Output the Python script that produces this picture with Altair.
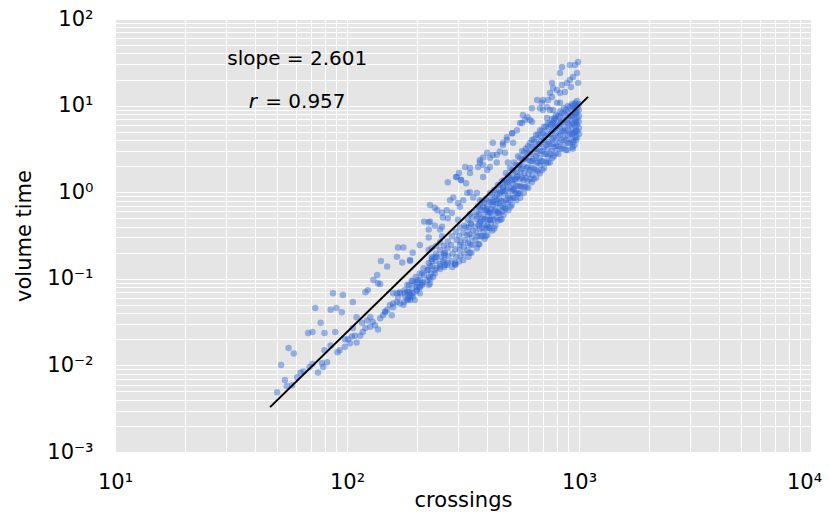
import altair as alt
import pandas as pd

# ---- data (crossings, volume time) ----
tail = [
    (50, 0.0049), (52, 0.0101), (56, 0.0159), (59, 0.0137), (54, 0.0068), (55, 0.0058), (58, 0.0059), (61, 0.0073), (63, 0.0083), (65, 0.0085),
    (69, 0.0096), (71, 0.0104), (75, 0.0083), (78, 0.0106), (79, 0.0096), (82, 0.0109), (80, 0.015), (85, 0.017), (89, 0.0243), (80, 0.0236),
    (71, 0.0243), (68, 0.0236), (77, 0.031), (73, 0.046), (85, 0.044), (90, 0.046), (95, 0.041), (87, 0.068), (96, 0.065), (106, 0.054),
    (93, 0.015), (91, 0.0142), (98, 0.0164), (101, 0.020), (105, 0.0215), (110, 0.0184), (114, 0.022), (117, 0.0243), (116, 0.031), (122, 0.033),
    (126, 0.028), (132, 0.029), (136, 0.026), (139, 0.035), (146, 0.041), (149, 0.044), (156, 0.038), (158, 0.052), (164, 0.054), (120, 0.070),
    (123, 0.074), (130, 0.097), (135, 0.111), (136, 0.089), (103, 0.018), (106, 0.027), (110, 0.036), (126, 0.036), (140, 0.161), (149, 0.139),
    (164, 0.18), (173, 0.154), (187, 0.161), (192, 0.20), (139, 0.087), (146, 0.042), (158, 0.047), (169, 0.052), (182, 0.057), (192, 0.068),
    (200, 0.074), (211, 0.088), (228, 0.10), (239, 0.115), (252, 0.13), (264, 0.144), (292, 0.146), (243, 0.18), (264, 0.188), (232, 0.16),
    (200, 0.091), (182, 0.071), (187, 0.057), (196, 0.057), (169, 0.068), (164, 0.068), (158, 0.068), (98, 0.020), (108, 0.022), (120, 0.027),
    (129, 0.032), (143, 0.038), (153, 0.050), (166, 0.061), (175, 0.050), (183, 0.059), (206, 0.080), (222, 0.097), (225, 0.085), (235, 0.105),
]

middle = [
    (228, 0.71), (239, 0.66), (245, 0.62), (257, 0.58), (278, 0.81), (287, 0.87), (301, 0.75), (307, 0.68), (317, 0.81), (330, 0.98),
    (339, 1.0), (350, 0.87), (363, 0.98), (374, 0.81), (386, 0.68), (402, 0.60), (413, 0.58), (425, 0.71), (442, 0.81), (456, 0.98),
    (470, 1.12), (489, 1.27), (515, 1.38), (540, 1.50), (520, 1.06), (545, 0.98), (504, 0.81), (470, 0.68), (447, 0.58), (413, 0.48),
    (374, 0.45), (402, 0.41), (326, 0.39), (307, 0.245), (292, 0.152), (264, 0.20), (257, 0.40), (259, 0.51), (272, 0.50), (269, 0.62),
    (283, 0.58), (301, 0.48), (215, 0.46), (225, 0.45), (228, 0.46), (225, 0.37), (225, 0.30), (239, 0.41), (252, 0.37), (257, 0.31),
    (206, 0.245), (166, 0.23), (175, 0.23), (187, 0.165), (232, 0.18), (239, 0.176), (259, 0.158), (252, 0.14), (228, 0.14), (222, 0.126),
    (211, 0.115), (239, 0.126), (269, 0.144), (202, 0.097), (192, 0.093), (182, 0.085), (200, 0.080), (211, 0.085), (228, 0.088), (187, 0.068),
    (206, 0.068), (178, 0.068), (169, 0.070), (192, 0.062),
]

upper = [
    (272, 1.30), (304, 1.67), (323, 1.96), (339, 1.67), (310, 1.38), (326, 1.27), (295, 1.50), (374, 2.35), (386, 2.52), (402, 2.85),
    (425, 2.69), (442, 2.2), (413, 1.96), (402, 1.80), (386, 1.50), (456, 2.95), (480, 2.85), (494, 2.2), (470, 3.72), (489, 4.3),
    (515, 4.8), (520, 3.72), (425, 3.72), (374, 2.2),
    (845, 27.9), (914, 29.5), (961, 29.5), (991, 31.8), (981, 23.8), (942, 21.4), (914, 19.8), (887, 18.3), (845, 17.3), (828, 23.8),
    (923, 16.4), (991, 18.3), (765, 18.3), (773, 16.0), (804, 15.1), (828, 14.0), (870, 14.4), (750, 14.0), (765, 12.6), (735, 11.6),
    (804, 10.8), (828, 10.8), (699, 11.6), (692, 10.8), (728, 9.6), (750, 8.9), (773, 8.9), (660, 11.6), (627, 9.3), (699, 8.9),
    (679, 9.3), (728, 7.2), (788, 7.2), (773, 6.3), (615, 6.8), (585, 6.8), (573, 7.8), (557, 6.3), (540, 5.2), (515, 4.8),
    (600, 7.4), (627, 6.5), (568, 6.3), (489, 4.0), (470, 3.5), (442, 2.7), (413, 2.5), (386, 2.06), (367, 1.96), (339, 1.9),
    (297, 1.5), (310, 1.38),
]

band_low = [
    (177, 0.074), (178, 0.063), (176, 0.054), (185, 0.085), (184, 0.071), (186, 0.061),
    (190, 0.095), (191, 0.078), (189, 0.065), (198, 0.105), (197, 0.088), (199, 0.072),
    (206, 0.115), (207, 0.097), (205, 0.080), (214, 0.132), (215, 0.111), (213, 0.091),
    (225, 0.152), (224, 0.126), (226, 0.105), (225, 0.215), (232, 0.17), (233, 0.14), (231, 0.115), (232, 0.225),
    (242, 0.193), (241, 0.16), (243, 0.132), (242, 0.24), (252, 0.215), (253, 0.18), (251, 0.148), (252, 0.265),
    (262, 0.24), (261, 0.196), (263, 0.165), (262, 0.137), (272, 0.27), (271, 0.225), (273, 0.184), (272, 0.152),
]

band = [
    (283, 0.31), (281, 0.245), (285, 0.196), (282, 0.16), (284, 0.137),
    (295, 0.35), (297, 0.28), (293, 0.22), (296, 0.18), (294, 0.146),
    (307, 0.39), (305, 0.31), (309, 0.265), (306, 0.215), (308, 0.184), (304, 0.158),
    (320, 0.41), (318, 0.34), (322, 0.28), (319, 0.235), (321, 0.196), (317, 0.165),
    (332, 0.48), (335, 0.39), (330, 0.32), (333, 0.26), (331, 0.215), (334, 0.18),
    (346, 0.52), (343, 0.43), (348, 0.36), (345, 0.30), (347, 0.245), (344, 0.20),
    (360, 0.59), (362, 0.49), (357, 0.40), (361, 0.34), (358, 0.28), (363, 0.225),
    (374, 0.67), (371, 0.56), (376, 0.46), (373, 0.38), (377, 0.31), (372, 0.25),
    (390, 0.75), (393, 0.62), (388, 0.52), (391, 0.42), (387, 0.35), (392, 0.29),
    (405, 0.81), (402, 0.69), (407, 0.57), (404, 0.48), (408, 0.39), (403, 0.32),
    (421, 0.93), (424, 0.77), (419, 0.64), (422, 0.53), (418, 0.44), (423, 0.36),
    (438, 1.06), (435, 0.88), (440, 0.73), (437, 0.61), (441, 0.50), (436, 0.41),
    (456, 1.21), (459, 1.0), (453, 0.84), (457, 0.69), (454, 0.57), (458, 0.48),
    (475, 1.38), (472, 1.15), (477, 0.95), (474, 0.79), (478, 0.66), (473, 0.55),
    (494, 1.54), (497, 1.30), (491, 1.09), (495, 0.91), (492, 0.75), (496, 0.62),
    (515, 1.80), (512, 1.50), (518, 1.24), (514, 1.03), (517, 0.86), (513, 0.71),
    (535, 2.06), (538, 1.71), (532, 1.42), (536, 1.18), (533, 0.98), (537, 0.81),
    (557, 2.48), (554, 2.06), (560, 1.71), (556, 1.42), (559, 1.18), (555, 0.98), (558, 0.86),
    (579, 2.9), (582, 2.42), (576, 2.0), (580, 1.66), (577, 1.38), (581, 1.15), (578, 0.98),
    (603, 3.4), (600, 2.83), (606, 2.35), (602, 1.96), (605, 1.62), (601, 1.34), (604, 1.12),
    (627, 4.0), (630, 3.33), (624, 2.77), (628, 2.28), (625, 1.9), (629, 1.58), (626, 1.30),
    (653, 4.6), (650, 3.8), (656, 3.17), (652, 2.6), (655, 2.2), (651, 1.8), (654, 1.47),
    (679, 5.2), (682, 4.35), (676, 3.6), (680, 3.0), (677, 2.48), (681, 2.06), (678, 1.66),
    (706, 5.7), (703, 4.8), (709, 4.0), (705, 3.33), (708, 2.77), (704, 2.28), (707, 1.9),
    (735, 6.3), (738, 5.4), (732, 4.6), (736, 3.8), (733, 3.17), (737, 2.6), (734, 2.2),
    (765, 7.0), (762, 6.0), (768, 5.1), (764, 4.2), (767, 3.6), (763, 3.0), (766, 2.48),
    (796, 7.8), (799, 6.6), (793, 5.7), (797, 4.8), (794, 4.0), (798, 3.4), (795, 2.83),
    (828, 8.6), (825, 7.4), (831, 6.3), (827, 5.4), (830, 4.6), (826, 3.8), (829, 3.17),
    (862, 9.4), (865, 8.0), (859, 6.8), (863, 5.8), (860, 4.95), (864, 4.2), (861, 3.5),
    (896, 9.9), (893, 8.4), (899, 7.2), (895, 6.2), (898, 5.2), (894, 4.5), (897, 3.7), (892, 3.07),
    (933, 10.4), (936, 8.9), (930, 7.6), (934, 6.5), (931, 5.5), (935, 4.7), (932, 4.0), (937, 3.33),
    (961, 10.7), (958, 9.4), (964, 8.0), (960, 6.8), (963, 5.8), (959, 4.95), (962, 4.2), (957, 3.5),
    (981, 11.3), (984, 9.6), (978, 8.4), (982, 7.2), (979, 6.0), (983, 5.1), (980, 4.3),
    (1000, 10.4), (998, 8.9), (1000, 7.6), (997, 6.5), (999, 5.5), (1000, 4.7),
]

band_dense = [
    (382, 0.79), (380, 0.62), (384, 0.49), (381, 0.39), (383, 0.31),
    (413, 0.98), (416, 0.77), (411, 0.60), (414, 0.48), (412, 0.38),
    (447, 1.21), (444, 0.95), (449, 0.75), (446, 0.59), (448, 0.47),
    (484, 1.66), (487, 1.30), (482, 1.03), (485, 0.81), (483, 0.64),
    (525, 2.2), (522, 1.75), (528, 1.38), (524, 1.09), (527, 0.86),
    (568, 3.0), (571, 2.35), (565, 1.86), (569, 1.47), (566, 1.15),
    (615, 3.7), (612, 2.9), (618, 2.28), (614, 1.80), (617, 1.42),
    (666, 4.6), (669, 3.6), (663, 2.83), (667, 2.2), (664, 1.75),
    (720, 5.7), (717, 4.45), (723, 3.5), (719, 2.77), (722, 2.2),
    (780, 6.8), (783, 5.4), (777, 4.2), (781, 3.33), (778, 2.6),
    (845, 8.2), (842, 6.5), (848, 5.1), (844, 4.0), (847, 3.17),
    (914, 9.6), (917, 7.6), (911, 6.0), (915, 4.7), (912, 3.7),
    (971, 10.4), (968, 8.2), (974, 6.5), (970, 5.1), (973, 4.0),
]

band_fill = [
    (339, 0.56), (341, 0.44), (337, 0.33), (340, 0.25), (338, 0.20),
    (367, 0.69), (365, 0.53), (369, 0.42), (366, 0.31), (368, 0.25),
    (397, 0.84), (400, 0.64), (395, 0.49), (398, 0.38), (396, 0.31),
    (430, 1.06), (427, 0.81), (432, 0.62), (429, 0.48), (431, 0.38),
    (465, 1.34), (468, 1.03), (463, 0.79), (466, 0.60), (464, 0.49),
    (504, 1.90), (501, 1.47), (507, 1.12), (503, 0.86), (506, 0.68),
    (546, 2.6), (549, 2.0), (543, 1.54), (547, 1.18), (544, 0.95),
    (591, 3.2), (588, 2.48), (594, 1.90), (590, 1.47), (593, 1.15),
    (640, 4.1), (643, 3.17), (637, 2.42), (641, 1.86), (638, 1.42),
    (692, 5.1), (689, 3.9), (695, 3.0), (691, 2.28), (694, 1.80),
    (750, 6.1), (753, 4.7), (747, 3.6), (751, 2.77), (748, 2.2),
    (812, 7.6), (809, 5.8), (815, 4.5), (811, 3.4), (814, 2.77),
    (879, 8.9), (882, 6.8), (876, 5.2), (880, 4.0), (877, 3.07),
    (942, 9.9), (939, 7.8), (945, 6.2), (941, 4.8), (944, 3.8), (940, 3.17),
]

# fitted power law line end points
fit_x = [46.6, 1094]
fit_y = [0.0033, 12.6]

# ticks / labels
x_grid = [10, 20, 30, 40, 50, 60, 70, 80, 90,
          100, 200, 300, 400, 500, 600, 700, 800, 900,
          1000, 2000, 3000, 4000, 5000, 6000, 7000, 8000, 9000, 10000]
y_grid = [0.001, 0.002, 0.003, 0.004, 0.005, 0.006, 0.007, 0.008, 0.009,
          0.01, 0.02, 0.03, 0.04, 0.05, 0.06, 0.07, 0.08, 0.09,
          0.1, 0.2, 0.3, 0.4, 0.5, 0.6, 0.7, 0.8, 0.9,
          1, 2, 3, 4, 5, 6, 7, 8, 9,
          10, 20, 30, 40, 50, 60, 70, 80, 90, 100]
x_major = [10, 100, 1000, 10000]
x_major_labels = ["10¹", "10²", "10³", "10⁴"]
y_major = [0.001, 0.01, 0.1, 1, 10, 100]
y_major_labels = ["10⁻³", "10⁻²", "10⁻¹", "10⁰", "10¹", "10²"]

slope_text = "slope = 2.601"
r_name = "r"
r_value = "= 0.957"


def label_expr(vals, labels):
    parts = " : ".join(f"datum.value == {v} ? '{l}'" for v, l in zip(vals, labels))
    return parts + " : ''"


points = tail + middle + upper + band_low + band + band_dense + band_fill
df = pd.DataFrame(points, columns=["crossings", "volume_time"])
fit_df = pd.DataFrame({"crossings": fit_x, "volume_time": fit_y})

FONT = "DejaVu Sans"
x_scale = alt.Scale(type="log", domain=[10, 10000], nice=False)
y_scale = alt.Scale(type="log", domain=[0.001, 100], nice=False)

x_axis = alt.Axis(values=x_grid, labelExpr=label_expr(x_major, x_major_labels),
                  grid=True, gridColor="white", gridWidth=1, ticks=False, tickSize=0,
                  domain=False, labelFont=FONT, labelFontSize=21, labelColor="black",
                  labelPadding=19, labelFlush=False, labelOverlap=False,
                  labelOffset={"condition": {"test": "datum.value == 10000", "value": -7}, "value": 0},
                  title="crossings", titleFont=FONT, titleFontSize=21,
                  titleFontWeight="normal", titleColor="black",
                  titleY=54, titleBaseline="alphabetic")
y_axis = alt.Axis(values=y_grid, labelExpr=label_expr(y_major, y_major_labels),
                  grid=True, gridColor="white", gridWidth=1, ticks=False, tickSize=0,
                  domain=False, labelFont=FONT, labelFontSize=21, labelColor="black",
                  labelPadding=22, labelFlush=False, labelOverlap=False,
                  title="volume time", titleFont=FONT, titleFontSize=21,
                  titleFontWeight="normal", titleColor="black", titlePadding=12)

scatter = alt.Chart(df).mark_circle(size=42, opacity=0.45, color="#2f66d4").encode(
    x=alt.X("crossings:Q", scale=x_scale, axis=x_axis),
    y=alt.Y("volume_time:Q", scale=y_scale, axis=y_axis),
)

line = alt.Chart(fit_df).mark_line(color="black", strokeWidth=2).encode(
    x=alt.X("crossings:Q", scale=x_scale),
    y=alt.Y("volume_time:Q", scale=y_scale),
)

ann1 = alt.Chart(pd.DataFrame({"x": [61], "y": [34.5], "t": [slope_text]})).mark_text(
    font=FONT, fontSize=20, align="center", baseline="middle", color="black"
).encode(x=alt.X("x:Q", scale=x_scale), y=alt.Y("y:Q", scale=y_scale), text="t:N")

ann2 = alt.Chart(pd.DataFrame({"x": [40.9], "y": [11.1], "t": [r_name]})).mark_text(
    font=FONT, fontSize=20, fontStyle="italic", align="right", baseline="middle", color="black"
).encode(x=alt.X("x:Q", scale=x_scale), y=alt.Y("y:Q", scale=y_scale), text="t:N")

ann3 = alt.Chart(pd.DataFrame({"x": [44.4], "y": [11.1], "t": [r_value]})).mark_text(
    font=FONT, fontSize=20, align="left", baseline="middle", color="black"
).encode(x=alt.X("x:Q", scale=x_scale), y=alt.Y("y:Q", scale=y_scale), text="t:N")

chart = alt.layer(scatter, line, ann1, ann2, ann3).properties(
    width=696, height=433,
    autosize=alt.AutoSizeParams(type="none"),
    padding={"left": 107, "top": 11, "right": 11, "bottom": 61},
    background="white",
).configure_view(fill="#e5e5e5", strokeWidth=0)

chart.save("out.html", embed_options={"renderer": "svg", "actions": False})
